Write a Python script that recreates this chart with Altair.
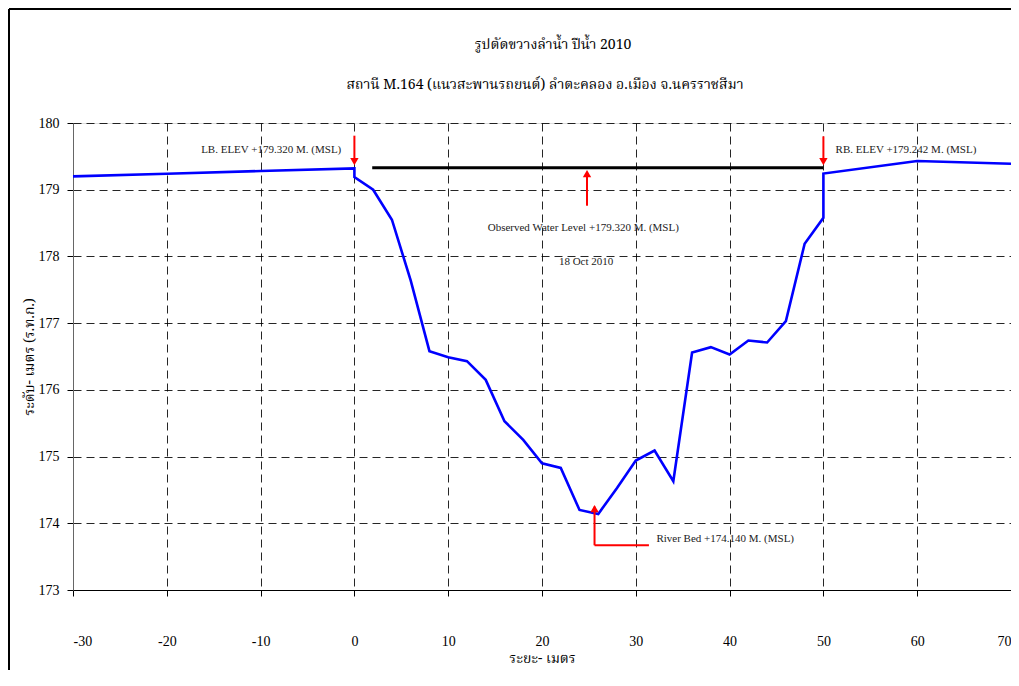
import altair as alt
import pandas as pd

# Ground profile (distance m, elevation m MSL)
dist = [-30, -20, -10, 0, 0, 2, 4, 6, 8, 10, 12, 14, 16, 18, 20, 22, 24, 26, 28,
        30, 32, 34, 36, 38, 40, 42, 44, 46, 48, 50, 50, 60, 70]
elev = [179.20, 179.24, 179.28, 179.32, 179.19, 179.00, 178.55, 177.64, 176.58,
        176.49, 176.43, 176.15, 175.53, 175.25, 174.90, 174.83, 174.20, 174.14,
        174.53, 174.94, 175.09, 174.63, 176.56, 176.64, 176.53, 176.74, 176.71,
        177.03, 178.19, 178.58, 179.242, 179.43, 179.39]

# Observed water level line
wl_x = [1.9, 50]
wl_y = [179.33, 179.33]

# Red arrow shafts
arr_x = [0, 50, 24.8, 25.6, 25.6]
arr_x2 = [0, 50, 24.8, 25.6, 31.4]
arr_y = [179.81, 179.80, 178.76, 174.25, 173.67]
arr_y2 = [179.45, 179.44, 179.20, 173.67, 173.67]

# Arrow heads
head_x = [0, 50]
head_y = [179.42, 179.42]
headup_x = [24.8, 25.6]
headup_y = [179.24, 174.22]

# Annotation texts
lbl_text = ["LB. ELEV +179.320 M. (MSL)", "RB. ELEV +179.242 M. (MSL)",
            "Observed Water Level +179.320 M. (MSL)", "18 Oct 2010",
            "River Bed +174.140 M. (MSL)"]
lbl_x = [-1.4, 51.3, 24.4, 24.7, 32.2]
lbl_y = [179.59, 179.60, 178.43, 177.91, 173.76]
lbl_align = ["right", "left", "center", "center", "left"]

title_text = "รูปตัดขวางลำน้ำ ปีน้ำ 2010"
subtitle_text = "สถานี M.164 (แนวสะพานรถยนต์) ลำตะคลอง  อ.เมือง  จ.นครราชสีมา"

x_ticks = list(range(-30, 71, 10))
y_ticks = list(range(173, 181))

SERIF = "'Liberation Serif', 'Times New Roman', serif"
THAI = "'Noto Serif Thai', 'Noto Sans Thai', Loma, Garuda, Norasi, sans-serif"

xs = alt.Scale(domain=[-30, 70], nice=False)
ys = alt.Scale(domain=[173, 180], nice=False)

prof = pd.DataFrame({"x": dist, "y": elev, "o": list(range(len(dist)))})
wl = pd.DataFrame({"x": wl_x, "y": wl_y})
arrows = pd.DataFrame({"x": arr_x, "x2": arr_x2, "y": arr_y, "y2": arr_y2})
hd = pd.DataFrame({"x": head_x, "y": head_y})
hu = pd.DataFrame({"x": headup_x, "y": headup_y})
labels = pd.DataFrame({"x": lbl_x, "y": lbl_y, "t": lbl_text, "a": lbl_align})
titles = pd.DataFrame({"t": [title_text, subtitle_text], "k": [0, 1]})

xaxis = alt.Axis(values=x_ticks, title="ระยะ- เมตร", grid=True, gridDash=[8, 5],
                 gridColor="#000", gridOpacity=0.85, gridWidth=1, domainColor="#000",
                 tickColor="#000", tickSize=6, labelFont=SERIF, labelFontSize=14,
                 labelColor="#000", labelPadding=38, labelExpr="'' + datum.value",
                 titleFont=THAI, titleFontSize=14,
                 titleFontWeight="normal", titleColor="#000", titlePadding=3)
yaxis = alt.Axis(values=y_ticks, title="ระดับ- เมตร (ร.ท.ก.)", grid=True, gridDash=[8, 5],
                 gridColor="#000", gridOpacity=0.85, gridWidth=1, domainColor="#666",
                 tickColor="#000", tickSize=6, labelFont=SERIF, labelFontSize=14,
                 labelColor="#000", labelPadding=8, labelExpr="'' + datum.value",
                 titleFont=THAI, titleFontSize=14,
                 titleFontWeight="normal", titleColor="#000", titlePadding=2)

base_line = alt.Chart(prof).mark_line(color="#0000ff", strokeWidth=2.6).encode(
    x=alt.X("x:Q", scale=xs, axis=xaxis),
    y=alt.Y("y:Q", scale=ys, axis=yaxis),
    order="o:Q",
)

water = alt.Chart(wl).mark_line(color="#000", strokeWidth=3).encode(
    x=alt.X("x:Q", scale=xs), y=alt.Y("y:Q", scale=ys))

shafts = alt.Chart(arrows).mark_rule(color="#ff0000", strokeWidth=2).encode(
    x=alt.X("x:Q", scale=xs), x2="x2:Q", y=alt.Y("y:Q", scale=ys), y2="y2:Q")

heads_down = alt.Chart(hd).mark_point(shape="triangle-down", filled=True, color="#ff0000",
                                      opacity=1, size=70).encode(
    x=alt.X("x:Q", scale=xs), y=alt.Y("y:Q", scale=ys))
heads_up = alt.Chart(hu).mark_point(shape="triangle-up", filled=True, color="#ff0000",
                                    opacity=1, size=70).encode(
    x=alt.X("x:Q", scale=xs), y=alt.Y("y:Q", scale=ys))

texts = []
for al in ["left", "center", "right"]:
    texts.append(
        alt.Chart(labels).transform_filter(alt.datum.a == al)
        .mark_text(font=SERIF, fontSize=11, color="#222", align=al, baseline="middle")
        .encode(x=alt.X("x:Q", scale=xs), y=alt.Y("y:Q", scale=ys), text="t:N")
    )

title_mark = alt.Chart(titles).transform_filter(alt.datum.k == 0).mark_text(
    font=THAI, fontSize=14, color="#000", align="center", baseline="middle").encode(
    x=alt.value(480), y=alt.value(-78), text="t:N")
subtitle_mark = alt.Chart(titles).transform_filter(alt.datum.k == 1).mark_text(
    font=THAI, fontSize=14, color="#000", align="center", baseline="middle").encode(
    x=alt.value(472), y=alt.value(-38), text="t:N")

frame_left = alt.Chart(prof).mark_rule(color="#000", strokeWidth=2).encode(
    x=alt.value(-64), y=alt.value(-114), y2=alt.value(600))
frame_top = alt.Chart(prof).mark_rule(color="#000", strokeWidth=2).encode(
    x=alt.value(-64), x2=alt.value(960), y=alt.value(-114))

chart = alt.layer(base_line, water, shafts, heads_down, heads_up, *texts,
                  title_mark, subtitle_mark, frame_left, frame_top).properties(
    width=938, height=467,
    autosize=alt.AutoSizeParams(type="none"),
    padding={"left": 65, "top": 115, "right": 0, "bottom": 80},
).configure_view(stroke=None).configure(background="white")

chart.save("out.html", embed_options={"renderer": "svg", "actions": False})
